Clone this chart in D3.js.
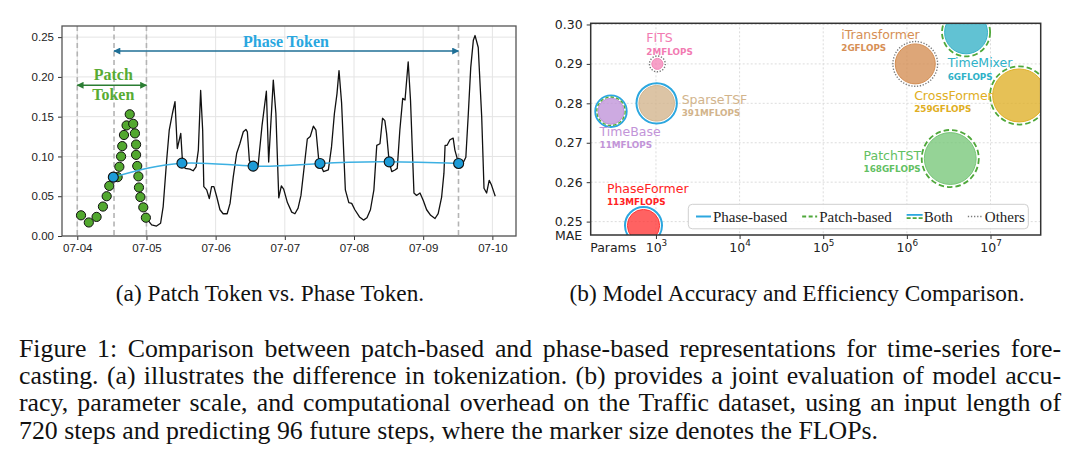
<!DOCTYPE html>
<html><head><meta charset="utf-8">
<script src="https://cdn.jsdelivr.net/npm/d3@7"></script>
<style>body{margin:0;background:#fff}svg{display:block}</style>
</head><body>
<svg id="fig" width="1080" height="462"></svg>
<script>
// ---------------- Panel (a) data: hours since 07-04 00:00 ----------------
const seriesHours = [23.8,25.8,27.5,28.9,29.8,31.0,31.9,33.0,33.9,34.7,35.9,36.4,37.4,39.1,40.2,41.2,42.0,42.8,43.5,43.9,44.9,45.8,46.6,47.4,48.4,49.5,50.6,52.0,53.0,54.1,55.3,56.4,57.6,58.5,59.0,59.7,61.0,62.7,64.1,65.6,66.4,68.0,68.9,69.9,70.8,71.6,72.9,74.4,75.5,76.6,77.6,78.6,79.8,80.8,81.9,82.8,83.7,84.2,85.4,87.1,88.2,89.2,90.1,90.8,91.7,93.0,94.2,95.2,96.3,97.9,99.3,100.5,101.7,102.9,103.9,105.0,105.9,106.7,107.3,108.2,109.1,110.2,111.0,111.9,112.9,113.7,114.8,115.6,116.8,117.7,118.9,120.0,121.2,122.6,124.1,125.2,126.4,127.2,127.6,128.3,129.3,130.4,131.0,132.3,133.7,134.8,135.6,136.5,137.4,138.0,139.1,140.3,141.1,142.0,142.9,143.7,145.0];
const seriesValues = [0.023,0.014,0.0125,0.016,0.037,0.095,0.133,0.154,0.169,0.110,0.129,0.099,0.085,0.084,0.082,0.087,0.108,0.183,0.133,0.062,0.058,0.047,0.062,0.062,0.049,0.033,0.028,0.028,0.041,0.074,0.104,0.116,0.131,0.134,0.131,0.095,0.087,0.087,0.139,0.182,0.093,0.196,0.154,0.048,0.063,0.059,0.042,0.030,0.028,0.035,0.051,0.083,0.122,0.125,0.138,0.133,0.098,0.091,0.081,0.083,0.112,0.154,0.179,0.208,0.167,0.058,0.042,0.041,0.033,0.024,0.020,0.023,0.033,0.058,0.114,0.116,0.148,0.145,0.129,0.093,0.081,0.083,0.085,0.133,0.173,0.171,0.219,0.171,0.054,0.051,0.054,0.045,0.033,0.026,0.022,0.028,0.049,0.079,0.114,0.114,0.121,0.123,0.108,0.091,0.091,0.099,0.150,0.212,0.246,0.252,0.237,0.150,0.060,0.054,0.070,0.064,0.050];
const patchHours = [1.3,4.0,6.7,8.9,10.2,11.1,14.0,14.6,15.2,15.6,16.2,17.1,18.2,19.4,20.0,20.4,20.4,20.8,21.2,21.4,21.9,22.9,23.8];
const patchValues = [0.026,0.017,0.024,0.037,0.050,0.063,0.074,0.087,0.100,0.113,0.127,0.139,0.153,0.141,0.129,0.115,0.102,0.088,0.075,0.061,0.049,0.036,0.023];
const phaseHours = [12.5,36.3,61.0,84.2,108.2,132.3];
const phaseValues = [0.074,0.0916,0.0878,0.0912,0.0932,0.0912];
const boundaryHours = [0,12.75,24,132.25];
const dayTicks = ["07-04","07-05","07-06","07-07","07-08","07-09","07-10"];
const yTicksA = [0,0.05,0.10,0.15,0.20,0.25];

// ---------------- Panel (b) data ----------------
const models = ["FITS","SparseTSF","TimeBase","PhaseFormer","iTransformer","TimeMixer","CrossFormer","PatchTST"];
const params = [1.04e3,1.02e3,290,710,1.26e6,5.1e6,2.2e7,3.3e6];
const mae = [0.290,0.280,0.278,0.249,0.290,0.298,0.282,0.266];
const flops = [2e6,391e6,11e6,113e6,2e9,6e9,259e9,168e9];
const flopsLabels = ["2MFLOPS","391MFLOPS","11MFLOPS","113MFLOPS","2GFLOPS","6GFLOPS","259GFLOPS","168GFLOPS"];
const tokenType = ["Others","Phase-based","Both","Phase-based","Others","Patch-based","Patch-based","Patch-based"];
const xTicksB = [1e3,1e4,1e5,1e6,1e7];
const yTicksB = [0.25,0.26,0.27,0.28,0.29,0.30];
const legendItems = ["Phase-based","Patch-based","Both","Others"];

// ---------------- Captions ----------------
const subCaptions = ["(a) Patch Token vs. Phase Token.","(b) Model Accuracy and Efficiency Comparison."];
const captionLines = [
 "Figure 1: Comparison between patch-based and phase-based representations for time-series fore-",
 "casting. (a) illustrates the difference in tokenization. (b) provides a joint evaluation of model accu-",
 "racy, parameter scale, and computational overhead on the Traffic dataset, using an input length of",
 "720 steps and predicting 96 future steps, where the marker size denotes the FLOPs."
];

// ---------------- Styles / layout ----------------
const modelColor = {FITS:"#f586b9",SparseTSF:"#d2b48c",TimeBase:"#bf92d8",PhaseFormer:"#ff3636",iTransformer:"#d38d52",TimeMixer:"#35b1c7",CrossFormer:"#dfb026",PatchTST:"#77c678"};
const labelColor = {FITS:"#f27bb2",SparseTSF:"#d2b48c",TimeBase:"#c294d8",PhaseFormer:"#ff2222",iTransformer:"#d68f55",TimeMixer:"#2fb2c8",CrossFormer:"#e0ae22",PatchTST:"#62c062"};
const labelOffset = {FITS:[-11,-21.5],SparseTSF:[25,0.6],TimeBase:[-11.4,25],PhaseFormer:[-36.6,-32.3],iTransformer:[-74,-25],TimeMixer:[-18.3,35],CrossFormer:[-105,4.3],PatchTST:[-86.7,1]};
const BLUE="#2ca7df", GREEN="#4fa83a", GRAY="#7a7a7a";
const SANS="'Liberation Sans', Arial, sans-serif", DJV="'DejaVu Sans', sans-serif", SERIF="'Liberation Serif','Times New Roman', serif";

const svg = d3.select("#fig");

// =============== Panel (a) ===============
const A = {l:62, r:516, t:26, b:236};
const base = d3.timeParse("%Y-%m-%d %H")("2024-07-04 00");
const toDate = h => new Date(base.getTime() + h*3600e3);
const xA = d3.scaleTime().domain([toDate(-5.3), toDate(152.2)]).range([A.l, A.r]);
const yA = d3.scaleLinear().domain([0, 0.264]).range([A.b, A.t]);
const dayDates = dayTicks.map(s => d3.timeParse("%Y-%m-%d")("2024-" + s));

const gA = svg.append("g");
gA.append("g").selectAll("line").data(dayDates).join("line")
  .attr("x1", d => xA(d)).attr("x2", d => xA(d)).attr("y1", A.t).attr("y2", A.b)
  .attr("stroke", "#e4e4e4").attr("stroke-width", 1);
gA.append("g").selectAll("line").data(yTicksA).join("line")
  .attr("x1", A.l).attr("x2", A.r).attr("y1", d => yA(d)).attr("y2", d => yA(d))
  .attr("stroke", "#e4e4e4").attr("stroke-width", 1);
gA.append("g").selectAll("line").data(boundaryHours).join("line")
  .attr("x1", d => xA(toDate(d))).attr("x2", d => xA(toDate(d))).attr("y1", A.t).attr("y2", A.b)
  .attr("stroke", "#b4b4b4").attr("stroke-width", 1.6).attr("stroke-dasharray", "5,3.5");

const axA = gA.append("g").attr("transform", `translate(0,${A.b})`)
  .call(d3.axisBottom(xA).tickValues(dayDates).tickFormat(d3.timeFormat("%m-%d")).tickSize(4).tickPadding(4));
const ayA = gA.append("g").attr("transform", `translate(${A.l},0)`)
  .call(d3.axisLeft(yA).tickValues(yTicksA).tickFormat(d3.format(".2f")).tickSize(4).tickPadding(4));
[axA, ayA].forEach(g => {
  g.select(".domain").remove();
  g.selectAll("line").attr("stroke", "#333");
  g.selectAll("text").attr("font-family", SANS).attr("font-size", 11.5).attr("fill", "#222");
});

const seriesPts = d3.zip(seriesHours, seriesValues);
gA.append("path").datum(seriesPts)
  .attr("d", d3.line().x(d => xA(toDate(d[0]))).y(d => yA(d[1])))
  .attr("fill", "none").attr("stroke", "#111").attr("stroke-width", 1.3).attr("stroke-linejoin", "round");

gA.append("g").selectAll("circle").data(d3.zip(patchHours, patchValues)).join("circle")
  .attr("cx", d => xA(toDate(d[0]))).attr("cy", d => yA(d[1])).attr("r", 4.6)
  .attr("fill", "#52a82f").attr("stroke", "#111").attr("stroke-width", 1);

const phasePts = d3.zip(phaseHours, phaseValues);
gA.append("path").datum(phasePts)
  .attr("d", d3.line().curve(d3.curveNatural).x(d => xA(toDate(d[0]))).y(d => yA(d[1])))
  .attr("fill", "none").attr("stroke", "#3cb0e2").attr("stroke-width", 1.5);
gA.append("g").selectAll("circle").data(phasePts).join("circle")
  .attr("cx", d => xA(toDate(d[0]))).attr("cy", d => yA(d[1])).attr("r", 5)
  .attr("fill", "#1d9bd7").attr("stroke", "#111").attr("stroke-width", 1.1);

const defs = svg.append("defs");
function arrowMarker(id, color) {
  defs.append("marker").attr("id", id).attr("viewBox", "0 0 10 10").attr("refX", 9).attr("refY", 5)
    .attr("markerWidth", 9).attr("markerHeight", 7).attr("markerUnits", "userSpaceOnUse")
    .attr("orient", "auto-start-reverse")
    .append("path").attr("d", "M0,0 L10,5 L0,10 z").attr("fill", color);
}
arrowMarker("arrB", "#1f6f96");
arrowMarker("arrG", "#2b7d33");
gA.append("line")
  .attr("x1", xA(toDate(boundaryHours[1]))).attr("x2", xA(toDate(boundaryHours[3])))
  .attr("y1", yA(0.2325)).attr("y2", yA(0.2325))
  .attr("stroke", "#1f6f96").attr("stroke-width", 1.5)
  .attr("marker-start", "url(#arrB)").attr("marker-end", "url(#arrB)");
gA.append("line")
  .attr("x1", xA(toDate(boundaryHours[0]))).attr("x2", xA(toDate(boundaryHours[2])))
  .attr("y1", yA(0.1895)).attr("y2", yA(0.1895))
  .attr("stroke", "#2b7d33").attr("stroke-width", 1.5)
  .attr("marker-start", "url(#arrG)").attr("marker-end", "url(#arrG)");
gA.append("text").attr("x", xA(toDate(72.4))).attr("y", yA(0.2374)).attr("text-anchor", "middle")
  .attr("font-family", SERIF).attr("font-weight", "bold").attr("font-size", 16).attr("fill", "#2aa7df").text("Phase Token");
gA.append("text").attr("x", xA(toDate(12.5))).attr("y", yA(0.1957)).attr("text-anchor", "middle")
  .attr("font-family", SERIF).attr("font-weight", "bold").attr("font-size", 16).attr("fill", "#57ab33").text("Patch");
gA.append("text").attr("x", xA(toDate(12.5))).attr("y", yA(0.1706)).attr("text-anchor", "middle")
  .attr("font-family", SERIF).attr("font-weight", "bold").attr("font-size", 16).attr("fill", "#57ab33").text("Token");

gA.append("rect").attr("x", A.l).attr("y", A.t).attr("width", A.r - A.l).attr("height", A.b - A.t)
  .attr("fill", "none").attr("stroke", "#555").attr("stroke-width", 1.3);

// =============== Panel (b) ===============
const B = {l:590.7, r:1040.7, t:23.3, b:235};
const xB = d3.scaleLog().domain([Math.pow(10, 2.22), Math.pow(10, 7.6)]).range([B.l, B.r]);
const yB = d3.scaleLinear().domain([0.2466, 0.3003]).range([B.b, B.t]);
const rB = d3.scaleLinear().domain([Math.log10(2e6), Math.log10(11e6), Math.log10(259e9)]).range([5.5, 13, 26.5]);

const gB = svg.append("g");
defs.append("clipPath").attr("id", "clipB").append("rect")
  .attr("x", B.l).attr("y", B.t).attr("width", B.r - B.l).attr("height", B.b - B.t);

gB.append("g").selectAll("line").data(yTicksB).join("line")
  .attr("x1", B.l).attr("x2", B.r).attr("y1", d => yB(d)).attr("y2", d => yB(d))
  .attr("stroke", "#d8d8d8").attr("stroke-width", 0.9).attr("stroke-dasharray", "2,2");
gB.append("g").selectAll("line").data(xTicksB).join("line")
  .attr("x1", d => xB(d)).attr("x2", d => xB(d)).attr("y1", B.t).attr("y2", B.b)
  .attr("stroke", "#d8d8d8").attr("stroke-width", 0.9).attr("stroke-dasharray", "2,2");

const bubbles = models.map((m, i) => ({m, x: params[i], y: mae[i], f: flops[i], fl: flopsLabels[i], t: tokenType[i]}));
const gBub = gB.append("g").attr("clip-path", "url(#clipB)");
bubbles.forEach(d => {
  const cx = xB(d.x), cy = yB(d.y), r = rB(Math.log10(d.f));
  gBub.append("circle").attr("cx", cx).attr("cy", cy).attr("r", r)
    .attr("fill", modelColor[d.m]).attr("fill-opacity", 0.78)
    .attr("stroke", modelColor[d.m]).attr("stroke-width", 1);
  if (d.t === "Phase-based") {
    gBub.append("circle").attr("cx", cx).attr("cy", cy).attr("r", r + 2.4)
      .attr("fill", "none").attr("stroke", BLUE).attr("stroke-width", 2);
  } else if (d.t === "Patch-based") {
    gBub.append("circle").attr("cx", cx).attr("cy", cy).attr("r", r + 2.6)
      .attr("fill", "none").attr("stroke", GREEN).attr("stroke-width", 1.8).attr("stroke-dasharray", "5.5,3");
  } else if (d.t === "Both") {
    gBub.append("circle").attr("cx", cx).attr("cy", cy).attr("r", r + 2.8)
      .attr("fill", "none").attr("stroke", BLUE).attr("stroke-width", 1.8);
    gBub.append("circle").attr("cx", cx).attr("cy", cy).attr("r", r + 1.2)
      .attr("fill", "none").attr("stroke", GREEN).attr("stroke-width", 1.3).attr("stroke-dasharray", "3.5,2");
  } else {
    gBub.append("circle").attr("cx", cx).attr("cy", cy).attr("r", r + 2.4)
      .attr("fill", "none").attr("stroke", GRAY).attr("stroke-width", 1.4).attr("stroke-dasharray", "1.3,1.6");
  }
});
bubbles.forEach(d => {
  const cx = xB(d.x), cy = yB(d.y), o = labelOffset[d.m];
  gB.append("text").attr("x", cx + o[0]).attr("y", cy + o[1])
    .attr("font-family", DJV).attr("font-size", 12.5).attr("fill", labelColor[d.m]).text(d.m);
  gB.append("text").attr("x", cx + o[0]).attr("y", cy + o[1] + 12.2)
    .attr("font-family", DJV).attr("font-weight", "bold").attr("font-size", 8.8).attr("fill", labelColor[d.m]).text(d.fl);
});

const ayB = gB.append("g").attr("transform", `translate(${B.l},0)`)
  .call(d3.axisLeft(yB).tickValues(yTicksB).tickFormat(d3.format(".2f")).tickSize(4).tickPadding(4));
ayB.select(".domain").remove();
ayB.selectAll("line").attr("stroke", "#333");
ayB.selectAll("text").attr("font-family", DJV).attr("font-size", 12.5).attr("fill", "#222");
const axB = gB.append("g").attr("transform", `translate(0,${B.b})`)
  .call(d3.axisBottom(xB).tickValues(xTicksB).tickFormat("").tickSize(4));
axB.select(".domain").remove();
axB.selectAll("line").attr("stroke", "#333");
axB.selectAll(".tick").each(function(d) {
  const t = d3.select(this).append("text").attr("y", 16.5).attr("text-anchor", "middle")
    .attr("font-family", DJV).attr("font-size", 12.5).attr("fill", "#222");
  t.append("tspan").text("10");
  t.append("tspan").attr("dy", -5.5).attr("font-size", 8.8).text(Math.round(Math.log10(d)));
});
gB.append("text").attr("x", B.l - 8.5).attr("y", 239.5).attr("text-anchor", "end")
  .attr("font-family", DJV).attr("font-size", 12.5).attr("fill", "#222").text("MAE");
gB.append("text").attr("x", B.l - 0.5).attr("y", 251.5)
  .attr("font-family", DJV).attr("font-size", 12.5).attr("fill", "#222").text("Params");

const lg = gB.append("g");
lg.append("rect").attr("x", 688.3).attr("y", 204.3).attr("width", 340).attr("height", 24.5).attr("rx", 4)
  .attr("fill", "#fff").attr("fill-opacity", 0.85).attr("stroke", "#cfcfcf").attr("stroke-width", 1);
let cursor = 696;
legendItems.forEach(name => {
  const ly = 216.5;
  if (name === "Phase-based") {
    lg.append("line").attr("x1", cursor).attr("x2", cursor + 15).attr("y1", ly).attr("y2", ly).attr("stroke", BLUE).attr("stroke-width", 2);
  } else if (name === "Patch-based") {
    lg.append("line").attr("x1", cursor).attr("x2", cursor + 15).attr("y1", ly).attr("y2", ly).attr("stroke", GREEN).attr("stroke-width", 1.8).attr("stroke-dasharray", "4,2.5");
  } else if (name === "Both") {
    lg.append("line").attr("x1", cursor).attr("x2", cursor + 16).attr("y1", ly - 1.6).attr("y2", ly - 1.6).attr("stroke", BLUE).attr("stroke-width", 1.8);
    lg.append("line").attr("x1", cursor).attr("x2", cursor + 16).attr("y1", ly + 1.6).attr("y2", ly + 1.6).attr("stroke", GREEN).attr("stroke-width", 1.6).attr("stroke-dasharray", "4,2");
  } else {
    lg.append("line").attr("x1", cursor).attr("x2", cursor + 15).attr("y1", ly).attr("y2", ly).attr("stroke", GRAY).attr("stroke-width", 1.4).attr("stroke-dasharray", "1.3,1.8");
  }
  const t = lg.append("text").attr("x", cursor + 17).attr("y", 221.5)
    .attr("font-family", SERIF).attr("font-size", 15).attr("fill", "#222").text(name);
  cursor += 17 + t.node().getComputedTextLength() + 15;
});

gB.append("rect").attr("x", B.l).attr("y", B.t).attr("width", B.r - B.l).attr("height", B.b - B.t)
  .attr("fill", "none").attr("stroke", "#333").attr("stroke-width", 1.5);

// =============== Captions ===============
const subX = [270, 797];
subCaptions.forEach((s, i) => {
  svg.append("text").attr("x", subX[i]).attr("y", 300.5).attr("text-anchor", "middle")
    .attr("font-family", SERIF).attr("font-size", 23.3).attr("fill", "#111").text(s);
});
const capLeft = 19, capRight = 1061, capSize = 25.8;
captionLines.forEach((line, i) => {
  const t = svg.append("text").attr("x", capLeft).attr("y", 356.5 + i * 27.4)
    .attr("font-family", SERIF).attr("font-size", capSize).attr("fill", "#111").text(line);
  if (i < captionLines.length - 1) {
    const w = t.node().getComputedTextLength();
    const spaces = (line.match(/ /g) || []).length;
    t.attr("word-spacing", (capRight - capLeft - w) / spaces);
  }
});
</script>
</body></html>
